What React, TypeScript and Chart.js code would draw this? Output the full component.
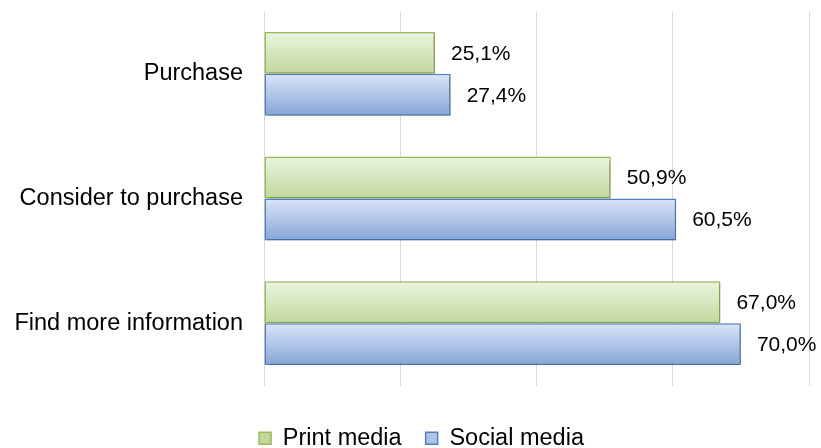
import React, { useEffect, useRef } from "react";
import { Chart, registerables } from "chart.js";

Chart.register(...registerables);

const categories = ["Purchase", "Consider to purchase", "Find more information"];
const printMedia = [25.1, 50.9, 67.0];
const socialMedia = [27.4, 60.5, 70.0];
const seriesNames = ["Print media", "Social media"];

const FONT = "'Liberation Sans', Arial, sans-serif";
const CAT_PCT = 0.672;

const styles = [
  { top: "#ebf5df", bottom: "#c2d79c", border: "#9bbb59", legend: "#c3d69b" },
  { top: "#dae5f8", bottom: "#86a5d7", border: "#4f81bd", legend: "#aec4e6" },
];

function gradientFor(ds: number) {
  return (ctx: any) => {
    const chart = ctx.chart;
    const y = chart.scales && chart.scales.y;
    if (!y || !chart.chartArea || ctx.dataIndex === undefined) return styles[ds].bottom;
    const center = y.getPixelForValue(ctx.dataIndex);
    const catW = y.height / categories.length;
    const barH = (catW * CAT_PCT) / 2;
    const top = ds === 0 ? center - barH : center;
    const bottom = top + barH;
    const g = chart.ctx.createLinearGradient(0, top, 0, bottom);
    g.addColorStop(0, styles[ds].top);
    g.addColorStop(1, styles[ds].bottom);
    return g;
  };
}

const labelPlugin = {
  id: "valueLabels",
  afterDatasetsDraw(chart: any) {
    const ctx = chart.ctx;
    ctx.save();
    ctx.font = `21px ${FONT}`;
    ctx.fillStyle = "#000";
    ctx.textAlign = "left";
    ctx.textBaseline = "middle";
    chart.data.datasets.forEach((ds: any, i: number) => {
      const meta = chart.getDatasetMeta(i);
      meta.data.forEach((el: any, j: number) => {
        const v = ds.data[j] as number;
        ctx.fillText(v.toFixed(1).replace(".", ",") + "%", el.x + 16, el.y + 1);
      });
    });
    ctx.restore();
  },
};

const shadowPlugin = {
  id: "barShadow",
  beforeDatasetsDraw(chart: any) {
    const ctx = chart.ctx;
    ctx.save();
    ctx.shadowColor = "rgba(0,0,0,0.28)";
    ctx.shadowBlur = 3;
    ctx.shadowOffsetX = 1.5;
    ctx.shadowOffsetY = 1.5;
  },
  afterDatasetsDraw(chart: any) {
    chart.ctx.restore();
  },
};

const legendShift = {
  id: "legendShift",
  afterLayout(chart: any) {
    const l = chart.legend;
    if (l) {
      l.left += 17;
      l.right += 17;
      l.top += 17;
      l.bottom += 17;
    }
  },
};

export default function App() {
  const ref = useRef<HTMLCanvasElement | null>(null);
  useEffect(() => {
    document.body.style.margin = "0";
    const canvas = ref.current!;
    const chart = new Chart(canvas, {
      type: "bar",
      data: {
        labels: categories,
        datasets: [
          {
            label: seriesNames[0],
            data: printMedia,
            backgroundColor: gradientFor(0),
            borderColor: styles[0].border,
            borderWidth: 1.5,
            borderSkipped: false,
            barPercentage: 1,
            categoryPercentage: CAT_PCT,
          },
          {
            label: seriesNames[1],
            data: socialMedia,
            backgroundColor: gradientFor(1),
            borderColor: styles[1].border,
            borderWidth: 1.5,
            borderSkipped: false,
            barPercentage: 1,
            categoryPercentage: CAT_PCT,
          },
        ],
      },
      options: {
        indexAxis: "y",
        responsive: false,
        animation: false,
        devicePixelRatio: 1,
        layout: { padding: { left: 0, right: 12, top: 11.5, bottom: 5 } },
        scales: {
          x: {
            min: 0,
            max: 80,
            ticks: { display: false, stepSize: 20 },
            grid: { color: "#d9d9d9", lineWidth: 1, drawTicks: false, tickLength: 0 },
            border: { display: false },
          },
          y: {
            ticks: { color: "#000", font: { family: FONT, size: 23.5 }, padding: 21 },
            grid: { display: false, drawTicks: false, tickLength: 0 },
            border: { display: false },
            afterFit(scale: any) {
              scale.width = 264;
              scale.paddingTop = 0;
              scale.paddingBottom = 0;
            },
          },
        },
        plugins: {
          tooltip: { enabled: false },
          legend: {
            position: "bottom",
            labels: {
              color: "#000",
              font: { family: FONT, size: 23.5 },
              boxWidth: 12,
              boxHeight: 12,
              padding: 24,
              generateLabels() {
                return seriesNames.map((n, i) => ({
                  text: n,
                  fillStyle: styles[i].legend,
                  strokeStyle: styles[i].border,
                  lineWidth: 1.5,
                  hidden: false,
                  datasetIndex: i,
                  fontColor: "#000",
                }));
              },
            },
          },
        },
      },
      plugins: [shadowPlugin, labelPlugin, legendShift],
    } as any);
    return () => chart.destroy();
  }, []);
  return (
    <div style={{ position: "fixed", left: 0, top: 0, width: 821, height: 448, background: "#fff" }}>
      <canvas ref={ref} width={821} height={448} />
    </div>
  );
}
